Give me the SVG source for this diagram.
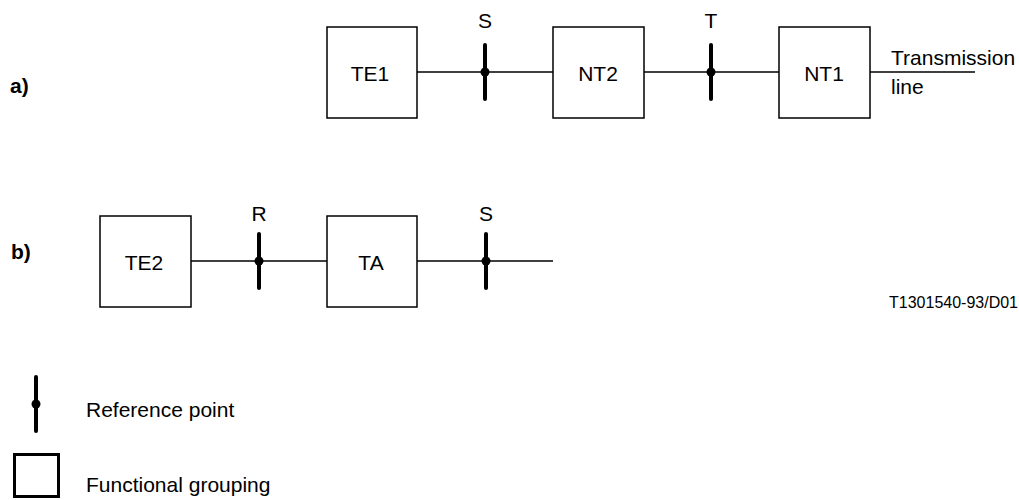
<svg xmlns="http://www.w3.org/2000/svg" width="1019" height="500" viewBox="0 0 1019 500">
<style>
.box{fill:#fff;stroke:#000;stroke-width:1.5}
.ln{stroke:#000;stroke-width:1.5;fill:none}
.rp{stroke:#000;stroke-width:4;stroke-linecap:round}
.t{font-family:"Liberation Sans",Arial,sans-serif;font-size:21px;fill:#000}
.c{text-anchor:middle}
.b{font-weight:bold}
</style>
<defs>
<g id="refpt"><line class="rp" x1="0" y1="-27" x2="0" y2="27"/><circle cx="0" cy="0" r="4.5" fill="#000"/></g>
</defs>
<text class="t b" x="10" y="93">a)</text>
<text class="t b" x="11" y="259">b)</text>
<g id="connectors">
<line class="ln" x1="417" y1="72" x2="553" y2="72"/>
<line class="ln" x1="644" y1="72" x2="779" y2="72"/>
<line class="ln" x1="870" y1="72" x2="975" y2="72"/>
<line class="ln" x1="191" y1="261" x2="327" y2="261"/>
<line class="ln" x1="417" y1="261" x2="553" y2="261"/>
</g>
<g id="TE1"><rect class="box" x="327" y="27" width="90" height="91"/><text class="t c" x="370" y="81">TE1</text></g>
<g id="NT2"><rect class="box" x="553" y="27" width="91" height="91"/><text class="t c" x="598" y="81">NT2</text></g>
<g id="NT1"><rect class="box" x="779" y="27" width="91" height="91"/><text class="t c" x="824" y="81">NT1</text></g>
<g id="TE2"><rect class="box" x="100" y="216" width="91" height="91"/><text class="t c" x="144" y="270">TE2</text></g>
<g id="TA"><rect class="box" x="327" y="216" width="90" height="91"/><text class="t c" x="371" y="270">TA</text></g>
<g id="refS1"><use href="#refpt" x="485" y="72"/><text class="t c" x="485" y="28">S</text></g>
<g id="refT"><use href="#refpt" x="711" y="72"/><text class="t c" x="711" y="28">T</text></g>
<g id="refR"><use href="#refpt" x="259" y="261"/><text class="t c" x="259" y="221">R</text></g>
<g id="refS2"><use href="#refpt" x="486" y="261"/><text class="t c" x="486" y="221">S</text></g>
<g id="transmission"><text class="t" x="891" y="65">Transmission</text><text class="t" x="891" y="94">line</text></g>
<text class="t" x="1018" y="308" style="font-size:16px;text-anchor:end">T1301540-93/D01</text>
<g id="legend">
<use href="#refpt" x="36" y="404"/>
<text class="t" x="86" y="417">Reference point</text>
<rect x="14.5" y="454.5" width="44" height="42" fill="none" stroke="#000" stroke-width="3"/>
<text class="t" x="86" y="492">Functional grouping</text>
</g>
</svg>
